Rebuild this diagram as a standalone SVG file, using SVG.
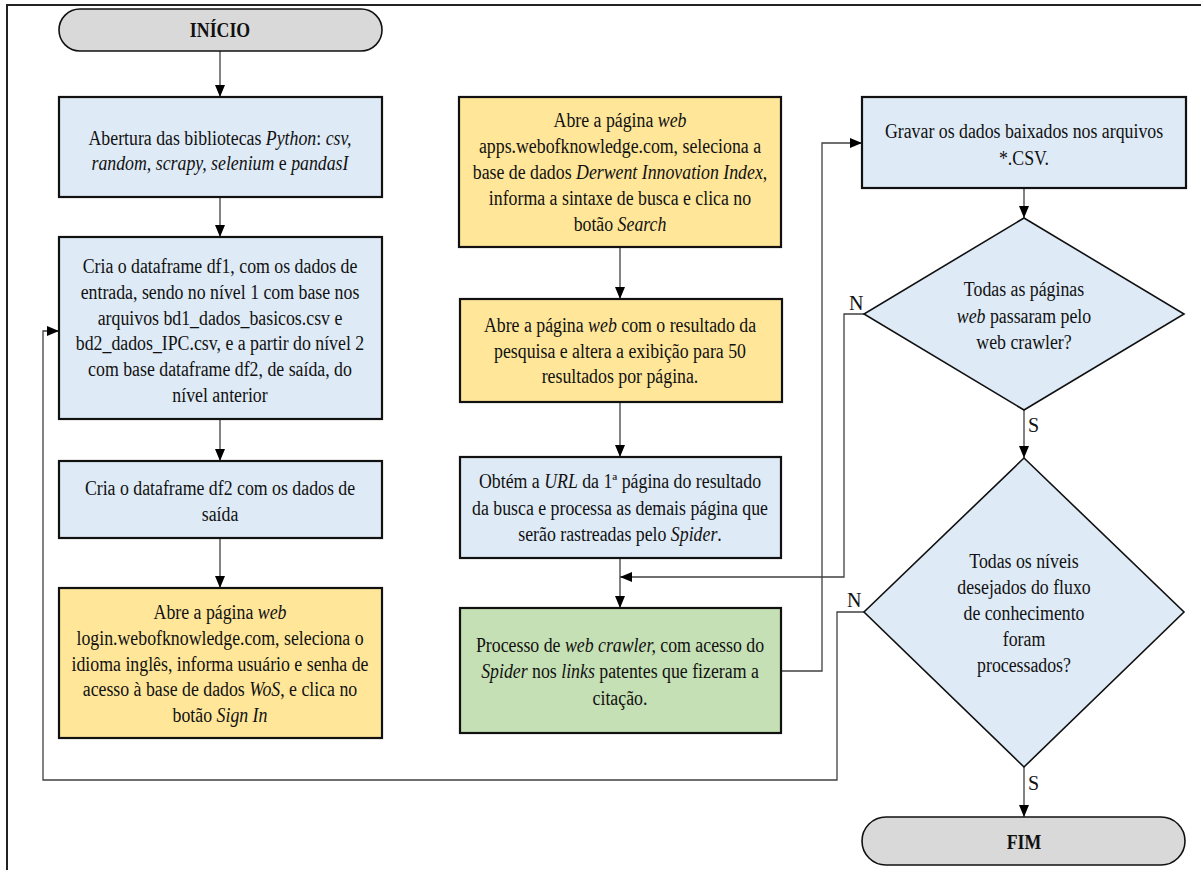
<svg xmlns="http://www.w3.org/2000/svg" width="1201" height="870" viewBox="0 0 1201 870">
<defs>
<marker id="ah" viewBox="0 0 12 10" refX="12" refY="5" markerWidth="12" markerHeight="10" markerUnits="userSpaceOnUse" orient="auto">
<path d="M0,0 L12,5 L0,10 z" fill="#000"/>
</marker>
<style>
.t{font-family:"Liberation Serif","Times New Roman",serif;font-size:20px;fill:#111;text-anchor:middle}
.b{font-weight:bold}
.i{font-style:italic}
.blue{fill:#DEEAF6;stroke:#111;stroke-width:2.2}
.yel{fill:#FFE699;stroke:#111;stroke-width:2.2}
.grn{fill:#C5E0B4;stroke:#111;stroke-width:2.2}
.gry{fill:#D9D9D9;stroke:#111;stroke-width:1.6}
.dia{fill:#DEEAF6;stroke:#111;stroke-width:1.6}
.c{fill:none;stroke:#404040;stroke-width:1.3}
.lbl{font-family:"Liberation Serif","Times New Roman",serif;font-size:20px;fill:#111}
</style>
</defs>
<rect x="0" y="0" width="1201" height="870" fill="#fff"/>
<g id="frame">
<line x1="6" y1="5" x2="1201" y2="5" stroke="#222" stroke-width="2"/>
<line x1="7" y1="4" x2="7" y2="870" stroke="#222" stroke-width="2"/>
</g>

<g id="connectors">
<path class="c" d="M220,51 V97" marker-end="url(#ah)"/>
<path class="c" d="M220,197 V237" marker-end="url(#ah)"/>
<path class="c" d="M220,419 V461" marker-end="url(#ah)"/>
<path class="c" d="M220,538 V588" marker-end="url(#ah)"/>
<path class="c" d="M620,247 V299" marker-end="url(#ah)"/>
<path class="c" d="M620,402 V457" marker-end="url(#ah)"/>
<path class="c" d="M620,558 V608" marker-end="url(#ah)"/>
<path class="c" d="M1024,188 V218" marker-end="url(#ah)"/>
<path class="c" d="M1024,410 V458" marker-end="url(#ah)"/>
<path class="c" d="M1024,767 V817" marker-end="url(#ah)"/>
<path class="c" d="M781,671 H822 V143 H862" marker-end="url(#ah)"/>
<path class="c" d="M864,314 H844 V577 H620" marker-end="url(#ah)"/>
<path class="c" d="M864,612 H837 V780 H43 V331 H59" marker-end="url(#ah)"/>
<text class="lbl" x="849" y="310">N</text>
<text class="lbl" x="1028" y="432">S</text>
<text class="lbl" x="847" y="607">N</text>
<text class="lbl" x="1028" y="790">S</text>
</g>

<g id="inicio">
<rect class="gry" x="59" y="9" width="323" height="42" rx="21" ry="21"/>
<g transform="matrix(0.89,0,0,1,220,0)"><text class="t b" x="0" y="37">INÍCIO</text></g>
</g>

<g id="bibliotecas">
<rect class="blue" x="59" y="97" width="323" height="100"/>
<g transform="matrix(0.89,0,0,1,220,0)">
<text class="t" x="0" y="145">Abertura das bibliotecas <tspan class="i">Python</tspan>: <tspan class="i">csv,</tspan></text>
<text class="t" x="0" y="170"><tspan class="i">random, scrapy, selenium</tspan> e <tspan class="i">pandasI</tspan></text>
</g>
</g>

<g id="df1">
<rect class="blue" x="59" y="237" width="323" height="182"/>
<g transform="matrix(0.89,0,0,1,220,0)">
<text class="t" x="0" y="273">Cria o dataframe df1, com os dados de</text>
<text class="t" x="0" y="299">entrada, sendo no nível 1 com base nos</text>
<text class="t" x="0" y="325">arquivos bd1_dados_basicos.csv e</text>
<text class="t" x="0" y="350">bd2_dados_IPC.csv, e a partir do nível 2</text>
<text class="t" x="0" y="376">com base dataframe df2, de saída, do</text>
<text class="t" x="0" y="402">nível anterior</text>
</g>
</g>

<g id="df2">
<rect class="blue" x="59" y="461" width="323" height="77"/>
<g transform="matrix(0.89,0,0,1,220,0)">
<text class="t" x="0" y="495">Cria o dataframe df2 com os dados de</text>
<text class="t" x="0" y="521">saída</text>
</g>
</g>

<g id="login">
<rect class="yel" x="59" y="588" width="323" height="150"/>
<g transform="matrix(0.89,0,0,1,220,0)">
<text class="t" x="0" y="619">Abre a página <tspan class="i">web</tspan></text>
<text class="t" x="0" y="645">login.webofknowledge.com,  seleciona o</text>
<text class="t" x="0" y="671">idioma inglês, informa usuário e senha de</text>
<text class="t" x="0" y="696">acesso à base de dados <tspan class="i">WoS</tspan>, e clica no</text>
<text class="t" x="0" y="722">botão <tspan class="i">Sign In</tspan></text>
</g>
</g>

<g id="apps">
<rect class="yel" x="459" y="97" width="322" height="150"/>
<g transform="matrix(0.89,0,0,1,620,0)">
<text class="t" x="0" y="127">Abre a página <tspan class="i">web</tspan></text>
<text class="t" x="0" y="153">apps.webofknowledge.com, seleciona a</text>
<text class="t" x="0" y="179">base de dados <tspan class="i">Derwent Innovation Index</tspan>,</text>
<text class="t" x="0" y="205">informa a sintaxe de busca e clica no</text>
<text class="t" x="0" y="231">botão <tspan class="i">Search</tspan></text>
</g>
</g>

<g id="resultado">
<rect class="yel" x="460" y="299" width="322" height="103"/>
<g transform="matrix(0.89,0,0,1,620,0)">
<text class="t" x="0" y="332">Abre a página <tspan class="i">web</tspan> com o resultado da</text>
<text class="t" x="0" y="358">pesquisa e altera a exibição para 50</text>
<text class="t" x="0" y="383">resultados por página.</text>
</g>
</g>

<g id="url">
<rect class="blue" x="460" y="457" width="321" height="101"/>
<g transform="matrix(0.89,0,0,1,620,0)">
<text class="t" x="0" y="488">Obtém a <tspan class="i">URL</tspan> da 1ª página do resultado</text>
<text class="t" x="0" y="515">da busca e processa as demais página que</text>
<text class="t" x="0" y="541">serão rastreadas pelo <tspan class="i">Spider</tspan>.</text>
</g>
</g>

<g id="crawler">
<rect class="grn" x="460" y="608" width="321" height="125"/>
<g transform="matrix(0.89,0,0,1,620,0)">
<text class="t" x="0" y="652">Processo de <tspan class="i">web crawler,</tspan> com acesso do</text>
<text class="t" x="0" y="678"><tspan class="i">Spider</tspan> nos <tspan class="i">links</tspan> patentes que fizeram a</text>
<text class="t" x="0" y="705">citação.</text>
</g>
</g>

<g id="gravar">
<rect class="blue" x="862" y="97" width="324" height="91"/>
<g transform="matrix(0.89,0,0,1,1024,0)">
<text class="t" x="0" y="138">Gravar os dados baixados nos arquivos</text>
<text class="t" x="0" y="165">*.CSV.</text>
</g>
</g>

<g id="decisao-paginas">
<polygon class="dia" points="1024,218 1184,314 1024,410 864,314"/>
<g transform="matrix(0.89,0,0,1,1024,0)">
<text class="t" x="0" y="296">Todas as páginas</text>
<text class="t" x="0" y="323"><tspan class="i">web</tspan> passaram pelo</text>
<text class="t" x="0" y="349">web crawler?</text>
</g>
</g>

<g id="decisao-niveis">
<polygon class="dia" points="1024,458 1184,612 1024,767 864,612"/>
<g transform="matrix(0.89,0,0,1,1024,0)">
<text class="t" x="0" y="568">Todas os níveis</text>
<text class="t" x="0" y="594">desejados do fluxo</text>
<text class="t" x="0" y="620">de conhecimento</text>
<text class="t" x="0" y="646">foram</text>
<text class="t" x="0" y="672">processados?</text>
</g>
</g>

<g id="fim">
<rect class="gry" x="862" y="817" width="323" height="48" rx="24" ry="24"/>
<g transform="matrix(0.89,0,0,1,1024,0)"><text class="t b" x="0" y="849">FIM</text></g>
</g>
</svg>
